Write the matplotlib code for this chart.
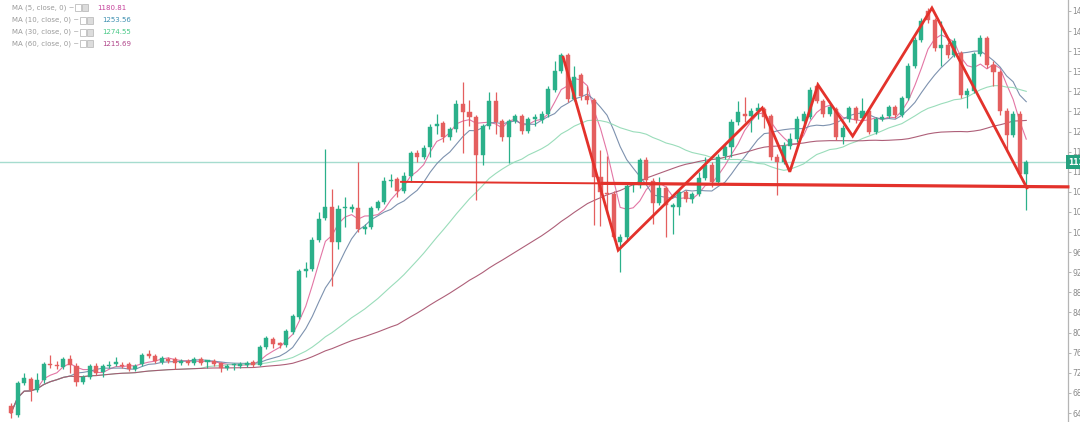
import matplotlib
matplotlib.use("Agg")
import matplotlib.pyplot as plt
import matplotlib.transforms as mtransforms
from matplotlib.patches import Rectangle
import numpy as np
import pandas as pd

# ---- OHLC data -------------------------------------------------------------
opens = [654, 636, 700, 708, 686, 706, 738, 736, 732, 748, 734, 702, 712, 734, 722, 734, 738, 736, 738, 728,
         738, 756, 754, 742, 748, 748, 740, 744, 740, 748, 742, 744, 740, 730, 736, 734, 736, 742, 736, 772,
         788, 778, 776, 802, 832, 922, 926, 984, 1028, 1050, 980, 1048, 1046, 1048, 1006, 1010, 1048, 1060, 1102, 1106,
         1082, 1112, 1158, 1150, 1170, 1212, 1218, 1190, 1206, 1255, 1238, 1230, 1154, 1212, 1260, 1222, 1190, 1222, 1232, 1202,
         1226, 1224, 1236, 1282, 1320, 1352, 1264, 1312, 1270, 1262, 1110, 1078, 1076, 980, 990, 1094, 1094, 1144, 1102, 1058,
         1088, 1050, 1050, 1080, 1066, 1076, 1108, 1134, 1100, 1152, 1170, 1220, 1236, 1232, 1240, 1244, 1232, 1150, 1140, 1172,
         1186, 1222, 1230, 1290, 1260, 1236, 1244, 1190, 1226, 1246, 1228, 1240, 1200, 1226, 1232, 1248, 1234, 1266, 1330, 1382,
         1440, 1422, 1366, 1372, 1352, 1356, 1272, 1280, 1354, 1386, 1332, 1318, 1240, 1194, 1236, 1116]
closes = [640, 700, 710, 686, 706, 738, 736, 734, 748, 736, 702, 712, 734, 720, 734, 736, 738, 734, 728, 734,
          756, 754, 744, 750, 744, 740, 744, 740, 748, 740, 742, 738, 730, 734, 736, 738, 740, 736, 772, 790,
          778, 776, 804, 834, 922, 926, 984, 1026, 1050, 980, 1046, 1048, 1050, 1006, 1010, 1048, 1060, 1102, 1102, 1082,
          1112, 1158, 1150, 1168, 1210, 1216, 1190, 1206, 1255, 1238, 1230, 1154, 1212, 1260, 1220, 1190, 1222, 1232, 1202, 1226,
          1226, 1236, 1284, 1320, 1352, 1264, 1308, 1270, 1262, 1110, 1080, 1076, 990, 990, 1092, 1094, 1144, 1104, 1058, 1088,
          1054, 1054, 1080, 1066, 1076, 1108, 1134, 1100, 1150, 1170, 1220, 1238, 1232, 1240, 1246, 1230, 1150, 1140, 1172, 1186,
          1226, 1236, 1282, 1260, 1236, 1248, 1190, 1208, 1246, 1224, 1240, 1200, 1226, 1230, 1248, 1234, 1266, 1330, 1382, 1420,
          1422, 1366, 1372, 1352, 1380, 1272, 1280, 1354, 1386, 1332, 1318, 1240, 1194, 1236, 1116, 1139]
highs = [660, 704, 720, 712, 720, 742, 756, 744, 752, 756, 740, 716, 738, 740, 738, 744, 752, 742, 742, 738,
         760, 766, 758, 754, 752, 752, 748, 748, 752, 752, 746, 748, 742, 738, 740, 742, 744, 746, 776, 794,
         792, 782, 808, 838, 926, 940, 990, 1040, 1166, 1086, 1054, 1070, 1056, 1140, 1016, 1052, 1064, 1110, 1116, 1110,
         1120, 1162, 1164, 1174, 1216, 1236, 1222, 1210, 1262, 1298, 1262, 1234, 1216, 1278, 1278, 1226, 1226, 1236, 1236, 1230,
         1236, 1240, 1290, 1340, 1356, 1356, 1330, 1316, 1290, 1266, 1164, 1152, 1082, 996, 1096, 1098, 1148, 1150, 1108, 1110,
         1092, 1058, 1084, 1084, 1080, 1120, 1150, 1140, 1156, 1176, 1226, 1260, 1268, 1246, 1256, 1248, 1236, 1156, 1180, 1198,
         1232, 1240, 1288, 1298, 1264, 1254, 1248, 1214, 1250, 1250, 1266, 1244, 1230, 1236, 1252, 1252, 1270, 1336, 1388, 1426,
         1446, 1426, 1420, 1378, 1386, 1360, 1286, 1358, 1392, 1390, 1340, 1322, 1246, 1240, 1240, 1144]
lows = [630, 632, 696, 664, 682, 700, 730, 728, 728, 720, 694, 698, 708, 716, 712, 730, 734, 730, 724, 724,
        734, 750, 740, 738, 740, 728, 736, 736, 736, 736, 730, 734, 722, 726, 726, 730, 732, 732, 734, 768,
        770, 770, 772, 798, 828, 910, 922, 980, 1024, 892, 966, 1010, 1040, 1000, 996, 1006, 1044, 1056, 1090, 1070,
        1078, 1100, 1140, 1146, 1150, 1196, 1180, 1184, 1200, 1158, 1212, 1064, 1134, 1206, 1196, 1182, 1138, 1218, 1196, 1198,
        1212, 1218, 1230, 1278, 1316, 1258, 1260, 1262, 1254, 1014, 1012, 1036, 984, 920, 984, 1080, 1088, 1098, 1016, 1054,
        990, 996, 1034, 1060, 1058, 1072, 1104, 1090, 1096, 1146, 1150, 1214, 1220, 1200, 1226, 1208, 1144, 1074, 1136, 1166,
        1180, 1216, 1226, 1256, 1230, 1232, 1184, 1176, 1220, 1218, 1224, 1196, 1196, 1222, 1228, 1228, 1230, 1262, 1326, 1378,
        1416, 1360, 1330, 1346, 1348, 1266, 1246, 1276, 1350, 1326, 1290, 1234, 1160, 1190, 1110, 1044]

ma_periods = [5, 10, 30, 60]
ma_labels = ["MA (5, close, 0)", "MA (10, close, 0)", "MA (30, close, 0)", "MA (60, close, 0)"]
ma_values = ["1180.81", "1253.56", "1274.55", "1215.69"]
ma_colors = ["#e0679b", "#6f86a6", "#8fd9b3", "#a54e6a"]
ma_text_colors = ["#c5409a", "#3d8fb0", "#49c987", "#b0458a"]

# trend annotation drawn over the chart (bar index, price)
zigzag_x = [84.3, 92.7, 114.7, 118.9, 123.2, 128.5, 140.6, 155.1]
zigzag_y = [1348, 964, 1247, 1120, 1293, 1191, 1446, 1088]
support_x = [59.4, 90.0, 161.6]
support_y = [1100, 1097, 1090]

y_ticks = list(range(640, 1441, 40))

# ---- figure ------------------------------------------------------------------
W, H, DPI = 1080, 422, 100
fig = plt.figure(figsize=(W / DPI, H / DPI), dpi=DPI, facecolor="white")
ax = fig.add_axes([0, 0, 1068 / W, 1])
ax.set_facecolor("white")

n = len(closes)
x = np.arange(n)
o = np.array(opens, float)
c = np.array(closes, float)
hi = np.array(highs, float)
lo = np.array(lows, float)

up_col, dn_col = "#2bb08a", "#e45f5f"
cols = np.where(c >= o, up_col, dn_col)

# moving averages
close_s = pd.Series(c)
for p, col in zip(ma_periods, ma_colors):
    ma = close_s.rolling(p, min_periods=1).mean()
    ax.plot(x, ma, color=col, lw=0.8, alpha=0.9, zorder=2)

# last price line
ax.axhline(c[-1], color="#a6dccf", lw=1.0, zorder=1)

# candles
ax.vlines(x, lo, hi, colors=cols, lw=0.9, zorder=3)
body_bottom = np.minimum(o, c)
body_h = np.maximum(np.abs(c - o), 2.5)
ax.bar(x, body_h, bottom=body_bottom, width=0.62, color=cols, edgecolor=cols, lw=0.3, zorder=4)

# annotations: support level (thin on the left, heavier to the right) and zigzag
ax.plot(support_x[:2], support_y[:2], color="#e3322b", lw=1.4, solid_capstyle="butt", zorder=5)
ax.plot(support_x[1:], support_y[1:], color="#e3322b", lw=2.3, solid_capstyle="butt", zorder=5,
        clip_on=False)
ax.plot(zigzag_x, zigzag_y, color="#e3322b", lw=2.0, solid_joinstyle="miter", zorder=6)

# axes styling
ax.set_xlim(-11 / 6.55, (1068 - 11) / 6.55)
ax.set_ylim(640 - 9 * 1.99, 640 + 413 * 1.99)
for s in ["top", "left", "bottom"]:
    ax.spines[s].set_visible(False)
ax.spines["right"].set_color("#b5b5b5")
ax.spines["right"].set_linewidth(0.9)
ax.set_xticks([])
ax.yaxis.tick_right()
ax.set_yticks(y_ticks)
ax.set_yticklabels([str(t) for t in y_ticks])
ax.tick_params(axis="y", direction="out", length=2, width=0.7, color="#b5b5b5",
               labelsize=5.5, labelcolor="#8c8c8c", pad=1)

# last price tag on the scale
tr = mtransforms.blended_transform_factory(ax.transAxes, ax.transData)
ax.text(1.0, c[-1], f"{c[-1]:.2f}", transform=tr, ha="left", va="center",
        fontsize=5.5, color="white", fontweight="bold", zorder=10, clip_on=False,
        bbox=dict(boxstyle="square,pad=0.3", fc="#26a17f", ec="none"))

# indicator legend
for i, (lab, val, tcol) in enumerate(zip(ma_labels, ma_values, ma_text_colors)):
    ypix = 8 + i * 12
    yf = 1 - ypix / H
    fig.text(12 / W, yf, lab + " ~", fontsize=5.0, color="#9a9a9a", va="center", ha="left")
    bx = (75 if i == 0 else 80)
    for k in range(2):
        fig.patches.append(Rectangle(((bx + k * 7) / W, yf - 3.5 / H), 5.5 / W, 7 / H,
                                     transform=fig.transFigure, fill=(k == 1),
                                     fc="#dcdcdc", ec="#bdbdbd", lw=0.6))
    fig.text((bx + 22) / W, yf, val, fontsize=5.0, color=tcol, va="center", ha="left")

fig.savefig("out.png", dpi=DPI, facecolor="white")
